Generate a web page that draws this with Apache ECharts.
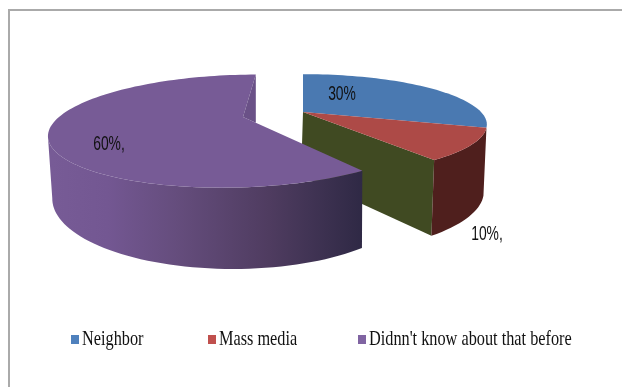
<!DOCTYPE html>
<html>
<head>
<meta charset="utf-8">
<style>html,body{margin:0;padding:0;background:#fff}#chart{width:622px;height:387px}</style>
<script src="https://cdn.jsdelivr.net/npm/echarts@6/dist/echarts.min.js"></script>
</head>
<body>
<div id="chart"></div>
<script>
// Survey answers, in percent, clockwise from twelve o'clock
const categories = ['Neighbor', 'Mass media', "Didnn't know about that before"];
const shares = [30, 10, 60];
const valueLabels = ['30%', '10%,', '60%,'];

// Colours of each slice
const legendColors = ['#4f81bd', '#c0504d', '#8064a2'];
const topColors = ['#4a79b1', '#ad4a47', '#775b96'];

// Projected disc: apex, radius, tilted radius, shear and perspective strength
const rightTop = { ax: 303, ay: 112, r: 178, rt: 47.3, q: 0, k: 0.25 };
const rightBase = { ax: 301, ay: 176, r: 177, rt: 59, q: 0, k: 0.25 };
const leftTop = { ax: 243, ay: 117, r: 184, rt: 53, q: -16, k: 0.25 };
const leftBase = { ax: 233, ay: 181, r: 175, rt: 66, q: 0, k: 0.25 };

const labelSpots = [[342, 94], [487, 234], [109, 144]];
const legendSpots = [71, 208, 358];

function project(d, deg) {
  const a = deg * Math.PI / 180;
  const x = Math.sin(a);
  const y = -Math.cos(a);
  const s = 1 / (1 - d.k * y);
  return [d.ax + (d.r * x + d.q * y) * s, d.ay + d.rt * y * s];
}

function arc(d, from, to) {
  const pts = [];
  const n = Math.max(2, Math.ceil(Math.abs(to - from) / 2));
  for (let i = 0; i <= n; i++) pts.push(project(d, from + (to - from) * i / n));
  return pts;
}

// Arc from a start angle up to the point furthest to the left
function arcToLeftmost(d, from, to) {
  const pts = arc(d, from, to);
  let best = 0;
  pts.forEach((p, i) => { if (p[0] < pts[best][0]) best = i; });
  return pts.slice(0, best + 1);
}

const total = shares.reduce((a, b) => a + b, 0);
const startDeg = [];
shares.reduce((acc, v, i) => { startDeg[i] = acc / total * 360; return acc + v; }, 0);

const poly = (points, fill) => ({ type: 'polygon', shape: { points }, style: { fill, stroke: null } });

function drawSlice(params, api) {
  const i = api.value(0);
  const from = startDeg[i];
  const to = from + api.value(1) / total * 360;
  const children = [];

  if (i === 2) {
    // Large slice pulled away to the left, shaded from left to right
    const shade = new echarts.graphic.LinearGradient(52, 0, 362, 0, [
      { offset: 0, color: '#775b96' },
      { offset: 0.18, color: '#735792' },
      { offset: 0.4, color: '#654d7d' },
      { offset: 0.7, color: '#4f3c60' },
      { offset: 1, color: '#2f2945' }
    ], true);
    const upper = arcToLeftmost(leftTop, from, to);
    const lower = arcToLeftmost(leftBase, from, to).reverse();
    children.push(poly(upper.concat(lower), shade));
    children.push(poly([[leftTop.ax, leftTop.ay]].concat(arc(leftTop, from, to)), topColors[i]));
    // Inner cut face seen beside the apex
    const rim = project(leftTop, to);
    const front = project(leftTop, from);
    const slope = (front[1] - leftTop.ay) / (front[0] - leftTop.ax);
    children.push(poly([[leftTop.ax, leftTop.ay], rim, [rim[0], leftTop.ay + slope * (rim[0] - leftTop.ax)]], '#6a5187'));
  } else {
    if (i === 1) {
      children.push(poly([[rightTop.ax, rightTop.ay], project(rightTop, to), project(rightBase, to), [rightBase.ax, rightBase.ay]], '#404a22'));
      children.push(poly(arc(rightTop, from, to).concat(arc(rightBase, to, from)), '#4f1f1d'));
    }
    children.push(poly([[rightTop.ax, rightTop.ay]].concat(arc(rightTop, from, to)), topColors[i]));
  }

  children.push({
    type: 'text',
    x: labelSpots[i][0],
    y: labelSpots[i][1],
    scaleX: 0.66,
    style: {
      text: valueLabels[i],
      font: '21px "Liberation Sans Narrow", "Liberation Sans", sans-serif',
      fill: '#111',
      align: 'center',
      verticalAlign: 'middle'
    }
  });
  return { type: 'group', children };
}

const legendGraphics = [];
categories.forEach((name, i) => {
  legendGraphics.push({
    type: 'rect',
    shape: { x: legendSpots[i], y: 335, width: 8, height: 9 },
    style: { fill: legendColors[i] }
  });
  legendGraphics.push({
    type: 'text',
    x: legendSpots[i] + 11,
    y: 339,
    scaleX: 0.775,
    style: {
      text: name,
      font: '21px "Liberation Serif", serif',
      fill: '#111',
      align: 'left',
      verticalAlign: 'middle'
    }
  });
});

const chart = echarts.init(document.getElementById('chart'));
chart.setOption({
  animation: false,
  graphic: [
    { type: 'line', shape: { x1: 9, y1: 10, x2: 622, y2: 10 }, style: { stroke: '#aaaaaa', lineWidth: 2 } },
    { type: 'line', shape: { x1: 9, y1: 9, x2: 9, y2: 387 }, style: { stroke: '#aaaaaa', lineWidth: 2 } }
  ].concat(legendGraphics),
  series: [{
    type: 'custom',
    coordinateSystem: 'none',
    silent: true,
    renderItem: drawSlice,
    data: shares.map((v, i) => [i, v])
  }]
});
</script>
</body>
</html>
